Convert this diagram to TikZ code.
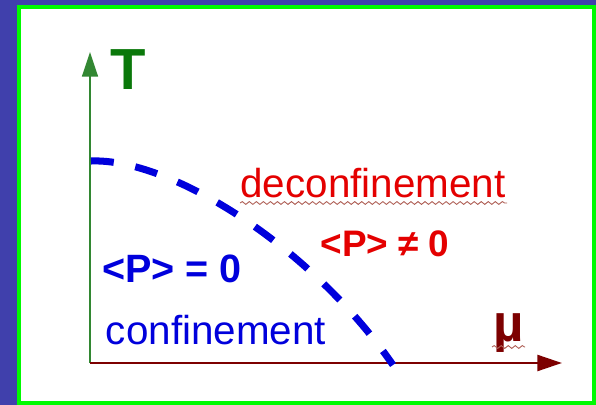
\documentclass[tikz,border=0pt]{standalone}
\usepackage{fontspec}
\setmainfont{Liberation Sans}
\usetikzlibrary{arrows.meta, decorations.pathmorphing}
\definecolor{cback}{RGB}{64,64,172}
\definecolor{cframe}{RGB}{0,250,0}
\definecolor{caxisT}{RGB}{50,135,50}
\definecolor{clabT}{RGB}{10,120,10}
\definecolor{caxisM}{RGB}{125,0,0}
\definecolor{cred}{RGB}{228,0,0}
\definecolor{cblue}{RGB}{0,0,220}
\definecolor{cwave}{RGB}{175,95,85}

\begin{document}
\begin{tikzpicture}[
    x=0.02cm, y=-0.02cm,
    label/.style={anchor=base, inner sep=0pt},
    axis/.style={-{Triangle[length=14pt, width=9pt]}},
    wave/.style={cwave, line width=0.5pt, decorate,
        decoration={snake, segment length=4pt, amplitude=0.8pt}}
]
\useasboundingbox (0,0) rectangle (596,405);
%% Background and frame
\fill[cback] (0,0) rectangle (596,405);
\draw[cframe, line width=2pt, fill=white] (19,7) rectangle (594,403);

%% Axes
\coordinate (origin) at (90,363);
\coordinate (tend) at (90,52);
\coordinate (muend) at (562,363);
\draw[axis, caxisT, line width=1.2pt] (origin) -- (tend);
\draw[axis, caxisM, line width=1.6pt] (origin) -- (muend);
\node[label, text=clabT, font=\fontsize{33}{33}\selectfont\bfseries] (tlab) at (128,90) {T};
\node[label, text=caxisM, font=\fontsize{30}{30}\selectfont\bfseries] (mulab) at (509,342) {µ};
\draw[wave] (492,347) -- (525,347);

%% Phase boundary
\coordinate (top) at (91,161);
\coordinate (bottom) at (393,365);
\draw[cblue, line width=4pt, dash pattern=on 13pt off 12.5pt]
    (top) .. controls (170,158) and (310,245) .. (bottom);

%% Labels
\node[label, text=cred, font=\fontsize{23}{23}\selectfont] (deconf) at (373,198) {deconfinement};
\draw[wave] (deconf.base west) ++(0,5) -- ++(267,0);
\node[label, text=cred, font=\fontsize{21}{21}\selectfont\bfseries] (pne) at (385,257) {<P> ≠ 0};
\node[label, text=cblue, font=\fontsize{22.5}{22.5}\selectfont\bfseries] (peq) at (172,283) {<P> = 0};
\node[label, text=cblue, font=\fontsize{23}{23}\selectfont] (conf) at (216,345) {confinement};
\end{tikzpicture}
\end{document}
